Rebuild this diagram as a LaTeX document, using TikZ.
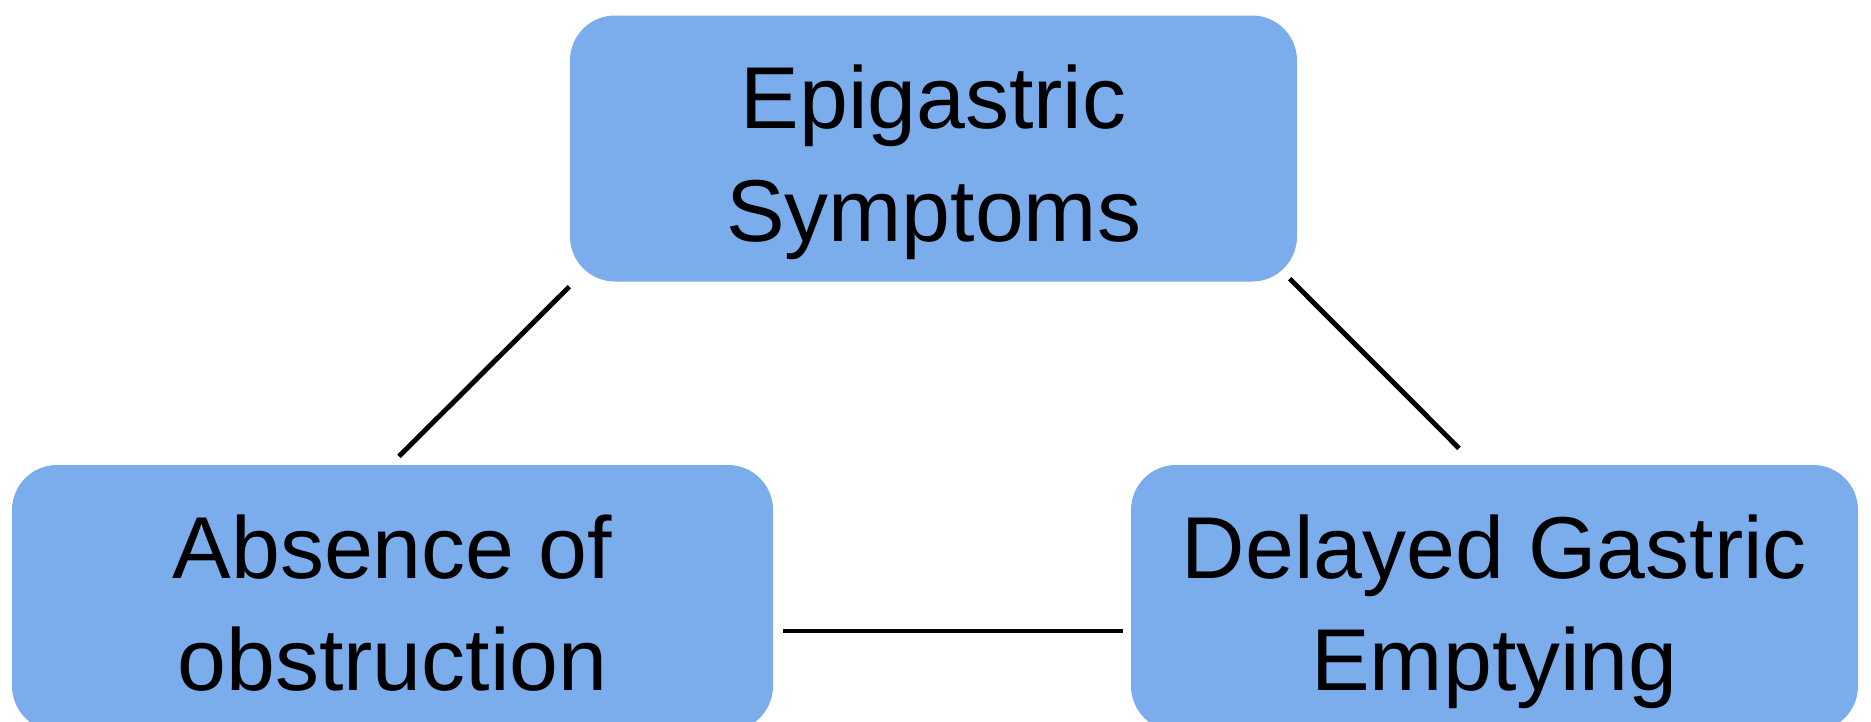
\documentclass[tikz,border=0pt]{standalone}
\usepackage{fontspec}
\setmainfont{Liberation Sans}
\definecolor{boxblue}{HTML}{7BACEC}
\begin{document}
\begin{tikzpicture}[box/.style={shape=rectangle,rounded corners=0.45cm,fill=boxblue,inner sep=0pt,minimum height=2.66cm,align=center,text height=2.0cm,text depth=0.15cm,font=\fontsize{25}{32}\selectfont},link/.style={line width=1.4pt}]
\useasboundingbox (0,0) rectangle (18.71,-7.21);
\node (epi) at (9.335,-1.485) [box,minimum width=7.27cm] {Epigastric\\Symptoms};
\node (abs) at (3.925,-5.98) [box,minimum width=7.61cm] {Absence of\\obstruction};
\node (dge) at (14.945,-5.98) [box,minimum width=7.27cm] {Delayed Gastric\\Emptying};
\draw[link] ([yshift=-0.045cm]epi.south west) -- ([xshift=0.065cm,yshift=0.08cm]abs.north);
\draw[link] ([xshift=-0.08cm,yshift=0.035cm]epi.south east) -- ([xshift=-0.355cm,yshift=0.16cm]dge.north);
\draw[link] ([xshift=0.09cm,yshift=-0.33cm]abs.east) -- ([xshift=-0.07cm,yshift=-0.33cm]dge.west);
\end{tikzpicture}
\end{document}
